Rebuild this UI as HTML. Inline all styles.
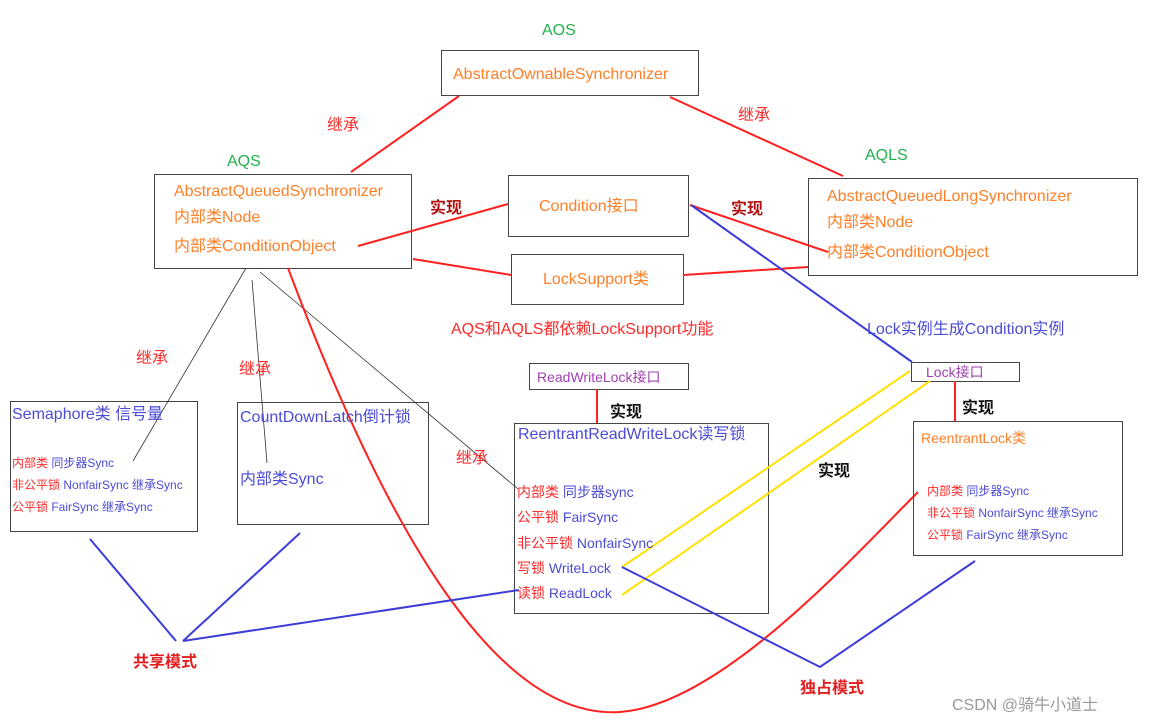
<!DOCTYPE html>
<html><head><meta charset="utf-8"><style>
html,body{margin:0;padding:0;background:#fff;}
svg{display:block;font-family:"Liberation Sans","Noto Sans CJK SC",sans-serif;}
.o{fill:#ff7f27}.b{fill:#4b4bd6}.r{fill:#ff2a2a}.g{fill:#22b14c}.k{fill:#111}
</style></head><body>
<svg width="1149" height="724" viewBox="0 0 1149 724" xmlns="http://www.w3.org/2000/svg">
<g fill="none" stroke="#444" stroke-width="1">
<rect x="441.5" y="50.5" width="257" height="45"/>
<rect x="154.5" y="174.5" width="257" height="94"/>
<rect x="808.5" y="178.5" width="329" height="97"/>
<rect x="508.5" y="175.5" width="180" height="61"/>
<rect x="511.5" y="254.5" width="172" height="50"/>
<rect x="529.5" y="363.5" width="159" height="26"/>
<rect x="911.5" y="362.5" width="108" height="19"/>
<rect x="10.5" y="401.5" width="187" height="130"/>
<rect x="237.5" y="402.5" width="191" height="122"/>
<rect x="514.5" y="423.5" width="254" height="190"/>
<rect x="913.5" y="421.5" width="209" height="134"/>
</g>
<g stroke="#333" stroke-width="0.8" fill="none">
<line x1="246" y1="268" x2="133" y2="461"/>
<line x1="252" y1="280" x2="267" y2="463"/>
<line x1="260" y1="272" x2="518" y2="489"/>
</g>
<g stroke="#ff2020" stroke-width="2" fill="none">
<line x1="459" y1="96" x2="351" y2="172"/>
<line x1="670" y1="97" x2="843" y2="176"/>
<line x1="358" y1="246" x2="508" y2="204"/>
<line x1="690" y1="205" x2="828" y2="252"/>
<line x1="413" y1="259" x2="511" y2="275"/>
<line x1="683" y1="275" x2="808" y2="267"/>
<line x1="597" y1="389" x2="597" y2="423"/>
<line x1="955" y1="381" x2="955" y2="421"/>
<path d="M288,268 C390,540 500,720 620,712 C720,705 850,560 918,492"/>
</g>
<g stroke="#ffe000" stroke-width="2" fill="none">
<line x1="622" y1="567" x2="910" y2="371"/>
<line x1="622" y1="595" x2="930" y2="381"/>
</g>
<g stroke="#3c3cd8" stroke-width="2" fill="none">
<line x1="691" y1="205" x2="912" y2="362"/>
<polyline points="519,590 183,641"/>
<line x1="90" y1="539" x2="176" y2="641"/>
<line x1="300" y1="533" x2="183" y2="641"/>
<polyline points="622,567 820,667 975,561"/>
</g>
<g font-size="16">
<text x="542" y="35" class="g">AOS</text>
<text x="453" y="79" class="o">AbstractOwnableSynchronizer</text>
<text x="227" y="166" class="g">AQS</text>
<text x="174" y="196" class="o">AbstractQueuedSynchronizer</text>
<text x="174" y="222" class="o">内部类Node</text>
<text x="174" y="251" class="o">内部类ConditionObject</text>
<text x="865" y="160" class="g">AQLS</text>
<text x="827" y="201" class="o">AbstractQueuedLongSynchronizer</text>
<text x="827" y="227" class="o">内部类Node</text>
<text x="827" y="257" class="o">内部类ConditionObject</text>
<text x="539" y="211" class="o">Condition接口</text>
<text x="543" y="284" class="o">LockSupport类</text>
<text x="451" y="334" class="r">AQS和AQLS都依赖LockSupport功能</text>
<text x="867" y="334" class="b">Lock实例生成Condition实例</text>
<text x="12" y="419" class="b">Semaphore类 信号量</text>
<text x="240" y="422" class="b">CountDownLatch倒计锁</text>
<text x="240" y="484" class="b">内部类Sync</text>
<text x="518" y="439" class="b">ReentrantReadWriteLock读写锁</text>
<g font-size="14">
<text x="517" y="497"><tspan class="r">内部类</tspan><tspan class="b"> 同步器sync</tspan></text>
<text x="517" y="522"><tspan class="r">公平锁</tspan><tspan class="b"> FairSync</tspan></text>
<text x="517" y="548"><tspan class="r">非公平锁</tspan><tspan class="b"> NonfairSync</tspan></text>
<text x="517" y="573"><tspan class="r">写锁</tspan><tspan class="b"> WriteLock</tspan></text>
<text x="517" y="598"><tspan class="r">读锁</tspan><tspan class="b"> ReadLock</tspan></text>
<text x="921" y="443" class="o">ReentrantLock类</text>
<text x="537" y="382" fill="#a040b0">ReadWriteLock接口</text>
<text x="926" y="377" fill="#a040b0">Lock接口</text>
</g>
<g font-size="12">
<text x="12" y="467"><tspan class="r">内部类</tspan><tspan class="b"> 同步器Sync</tspan></text>
<text x="12" y="489"><tspan class="r">非公平锁</tspan><tspan class="b"> NonfairSync 继承Sync</tspan></text>
<text x="12" y="511"><tspan class="r">公平锁</tspan><tspan class="b"> FairSync 继承Sync</tspan></text>
<text x="927" y="495"><tspan class="r">内部类</tspan><tspan class="b"> 同步器Sync</tspan></text>
<text x="927" y="517"><tspan class="r">非公平锁</tspan><tspan class="b"> NonfairSync 继承Sync</tspan></text>
<text x="927" y="539"><tspan class="r">公平锁</tspan><tspan class="b"> FairSync 继承Sync</tspan></text>
</g>
<text x="327" y="130" class="r">继承</text>
<text x="738" y="120" class="r">继承</text>
<text x="136" y="363" class="r">继承</text>
<text x="239" y="374" class="r">继承</text>
<text x="456" y="463" class="r">继承</text>
<text x="430" y="213" fill="#b01010" font-weight="bold">实现</text>
<text x="731" y="214" fill="#b01010" font-weight="bold">实现</text>
<text x="610" y="417" class="k" font-weight="bold">实现</text>
<text x="962" y="413" class="k" font-weight="bold">实现</text>
<text x="818" y="476" class="k" font-weight="bold">实现</text>
<text x="133" y="667" fill="#e02020" font-weight="bold">共享模式</text>
<text x="800" y="693" fill="#e02020" font-weight="bold">独占模式</text>
<text x="952" y="710" fill="#999">CSDN @骑牛小道士</text>
</g>
</svg>
</body></html>
